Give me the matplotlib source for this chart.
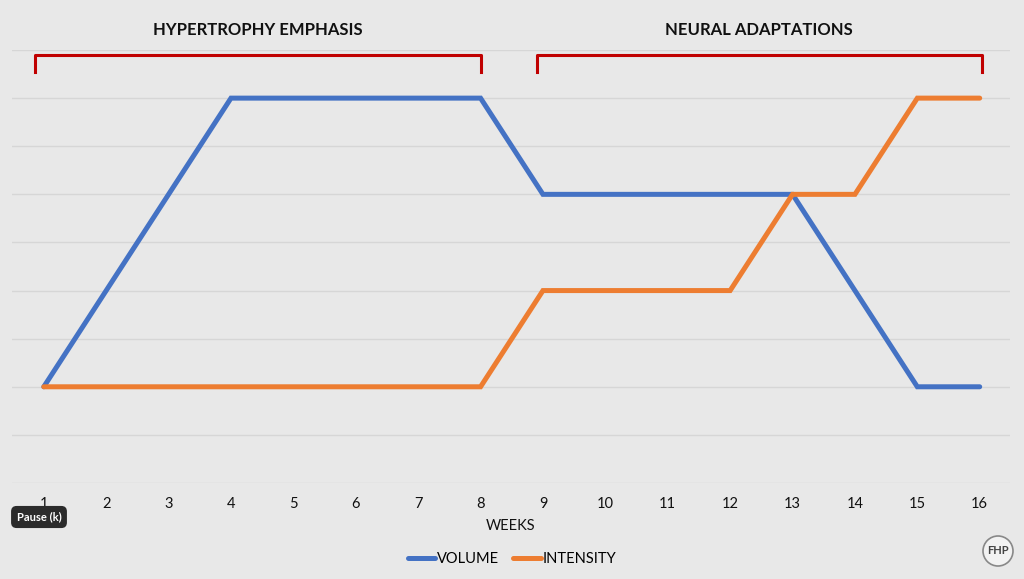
import matplotlib
matplotlib.use("Agg")
import matplotlib.pyplot as plt
from matplotlib.patches import Circle

# data
WEEKS = list(range(1, 17))
VOLUME = [2, 4, 6, 8, 8, 8, 8, 8, 6, 6, 6, 6, 6, 4, 2, 2]
INTENSITY = [2, 2, 2, 2, 2, 2, 2, 2, 4, 4, 4, 4, 6, 6, 8, 8]
PHASES = [("HYPERTROPHY EMPHASIS", 0.86, 8.0),
          ("NEURAL ADAPTATIONS", 8.9, 16.03)]

BLUE = "#4472c4"
ORANGE = "#ed7d31"
RED = "#c00000"
BG = "#e8e8e8"

plt.rcParams["font.family"] = ["Lato", "DejaVu Sans"]

fig = plt.figure(figsize=(10.24, 5.79), dpi=100, facecolor=BG)
ax = fig.add_axes([0.0117, 0.1658, 0.9743, 0.7478])
ax.set_facecolor(BG)

ax.plot(WEEKS, VOLUME, color=BLUE, lw=3.6, solid_capstyle="round",
        solid_joinstyle="miter", label="VOLUME", zorder=3)
ax.plot(WEEKS, INTENSITY, color=ORANGE, lw=3.6, solid_capstyle="round",
        solid_joinstyle="miter", label="INTENSITY", zorder=4)

ax.set_xlim(0.49, 16.48)
ax.set_ylim(0, 9)
ax.set_xticks(WEEKS)
ax.set_xticklabels([str(w) for w in WEEKS], fontsize=10.5, color="#111111")
ax.set_yticks(range(0, 10))
ax.tick_params(axis="both", length=0)
ax.tick_params(axis="x", pad=10)
ax.set_yticklabels([])
ax.grid(axis="y", color="#d6d6d6", lw=1)
ax.set_axisbelow(True)
for s in ax.spines.values():
    s.set_visible(False)
ax.set_xlabel("WEEKS", fontsize=10.5, color="#111111", labelpad=6)

# phase brackets and titles
for label, x0, x1 in PHASES:
    ax.plot([x0, x0, x1, x1], [8.55, 8.9, 8.9, 8.55], color=RED, lw=2.2,
            clip_on=False, zorder=5)
    ax.text((x0 + x1) / 2, 9.42, label, ha="center", va="center",
            fontsize=12, fontweight="bold", color="#111111")

fig.legend(loc="lower center", bbox_to_anchor=(0.5, 0.0), ncol=2,
           frameon=False, fontsize=10.5, handlelength=1.9, handletextpad=0.1,
           columnspacing=1.0)

# overlay bits visible in the reference (video button, logo)
fig.text(39 / 1024, 1 - 517 / 579, "Pause (k)", ha="center", va="center",
         fontsize=8, fontweight="bold", color="white",
         bbox=dict(boxstyle="round,pad=0.5", fc="#2b2b2b", ec="none"))
fig.patches.append(Circle((998, 579 - 551), 15, transform=None,
                          fc="#f2f2f2", ec="#888888", lw=1.2))
fig.text(998 / 1024, 1 - 551 / 579, "FHP", ha="center", va="center",
         fontsize=8, fontweight="bold", color="#444444")

fig.savefig("out.png", dpi=100, facecolor=BG)
